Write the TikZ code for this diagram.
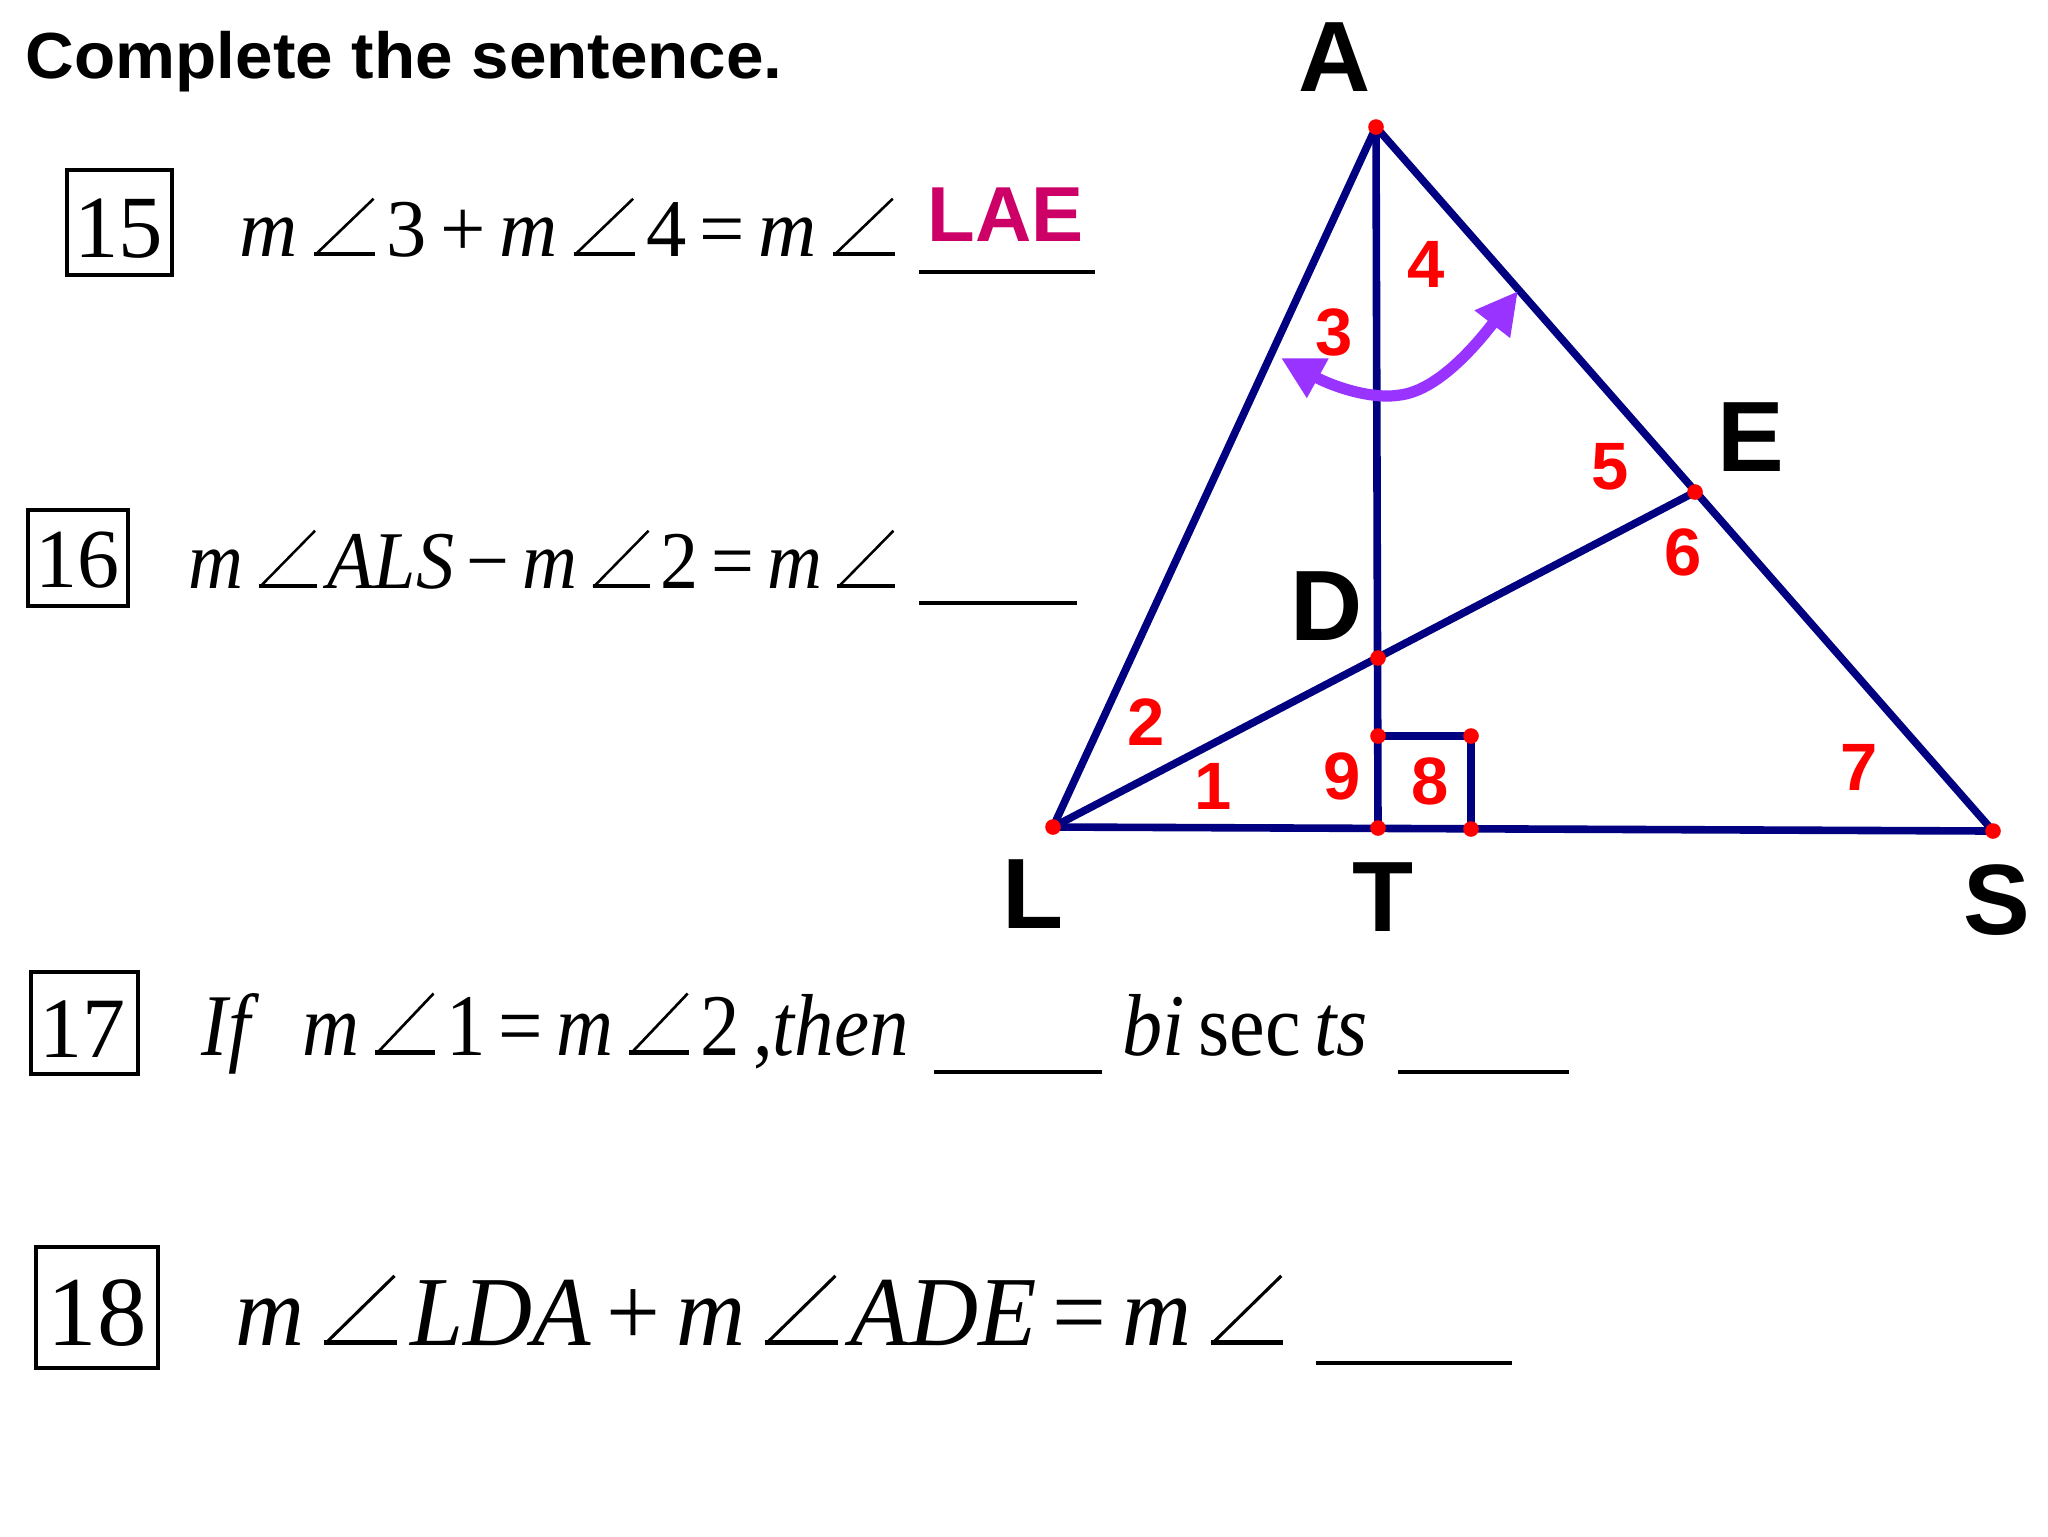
\documentclass[tikz,border=0pt]{standalone}
\usepackage{fontspec}
\usepackage{graphicx}
\usetikzlibrary{arrows.meta}
\newfontfamily\lsans{Liberation Sans}
\newfontfamily\tnr{Liberation Serif}
\definecolor{navyline}{RGB}{0,0,128}
\definecolor{ptred}{RGB}{255,0,0}
\definecolor{arrowpurple}{RGB}{153,51,255}
\definecolor{answercol}{RGB}{204,0,102}
% angle sign built from two rules: thin slant, heavier base
\newcommand\ang{\hspace{0.2em}\makebox[0.8em][l]{\rule{0.76em}{0.055em}\hspace{-0.76em}\rotatebox[origin=bl]{43.4}{\rule{1.0em}{0.032em}}}\hspace{0.1em}}
\newcommand\im[1]{\textit{#1}}
\newcommand\fitw[2]{\resizebox{#1}{\height}{#2}}
\tikzset{
  seg/.style={draw=navyline, line width=1.9pt, line cap=round, line join=round},
  dotm/.style={circle, fill=ptred, inner sep=0pt, minimum size=3.9pt},
  biglbl/.style={font=\lsans\bfseries\fontsize{25}{25}\selectfont, inner sep=0pt},
  numlbl/.style={font=\lsans\bfseries\fontsize{16.75}{17}\selectfont, text=ptred, inner sep=0pt},
  qbox/.style={draw, line width=1.05pt, inner sep=0pt},
  qnum/.style={anchor=base, inner sep=0pt},
  eqn/.style={anchor=base west, inner sep=0pt},
  blank/.style={draw, line width=1pt},
  bothway/.style={draw=arrowpurple, line width=2.8pt, {Triangle[length=10.5pt,width=10.5pt]}-{Triangle[length=10.5pt,width=10.5pt]}},
}
\begin{document}
\begin{tikzpicture}[x=0.25pt, y=-0.25pt]
\useasboundingbox (0,0) rectangle (2048,1536);

% heading
\node[eqn, font=\lsans\bfseries\fontsize{16.3}{18}\selectfont] (head) at (25,78)
  {\fitw{189.25pt}{Complete the sentence.}};

% question 15
\node[qbox, minimum width=26.25pt, minimum height=26.25pt] (b15) at (119.5,222.5) {};
\node[qnum, font=\tnr\fontsize{22.2}{24}\selectfont] (n15) at (118.5,257) {15};
\node[eqn, font=\tnr\fontsize{20.5}{24}\selectfont] (e15) at (239,256)
  {\fitw{166.5pt}{\im{m}\ang3\,+\,\im{m}\ang4\,=\,\im{m}\ang}};
\coordinate (u15a) at (919,272);
\coordinate (u15b) at (1095,272);
\draw[blank] (u15a) -- (u15b);
\node[font=\lsans\bfseries\fontsize{19.5}{20}\selectfont, text=answercol, inner sep=0pt] (lae) at (1005.5,215) {LAE};

% question 16
\node[qbox, minimum width=25pt, minimum height=24pt] (b16) at (78,558) {};
\node[qnum, font=\tnr\fontsize{21}{24}\selectfont] (n16) at (77.5,587) {16};
\node[eqn, font=\tnr\fontsize{20.5}{24}\selectfont] (e16) at (188,588)
  {\fitw{179.25pt}{\im{m}\ang\im{ALS}\,−\,\im{m}\ang2\,=\,\im{m}\ang}};
\coordinate (u16a) at (919,603);
\coordinate (u16b) at (1077,603);
\draw[blank] (u16a) -- (u16b);

% question 17
\node[qbox, minimum width=26.75pt, minimum height=25.5pt] (b17) at (84.5,1023) {};
\node[qnum, font=\tnr\fontsize{21.5}{24}\selectfont] (n17) at (82,1057) {17};
\node[eqn, font=\tnr\fontsize{22}{24}\selectfont] (e17) at (201,1055)
  {\fitw{176.75pt}{\im{If}\hspace{0.55em}\im{m}\ang1\,=\,\im{m}\ang2\,,\im{then}}};
\coordinate (u17a) at (934,1072);
\coordinate (u17b) at (1102,1072);
\draw[blank] (u17a) -- (u17b);
\node[eqn, font=\tnr\fontsize{22}{24}\selectfont] (bis) at (1122,1055)
  {\fitw{61.25pt}{\im{bi}\,sec\,\im{ts}}};
\coordinate (u17c) at (1398,1072);
\coordinate (u17d) at (1569,1072);
\draw[blank] (u17c) -- (u17d);

% question 18
\node[qbox, minimum width=30.5pt, minimum height=30.25pt] (b18) at (97,1307.5) {};
\node[qnum, font=\tnr\fontsize{24.75}{26}\selectfont] (n18) at (97,1345) {18};
\node[eqn, font=\tnr\fontsize{24.75}{26}\selectfont] (e18) at (235,1345)
  {\fitw{265.25pt}{\im{m}\ang\im{LDA}\,+\,\im{m}\ang\im{ADE}\,=\,\im{m}\ang}};
\coordinate (u18a) at (1316,1363);
\coordinate (u18b) at (1512,1363);
\draw[blank] (u18a) -- (u18b);

% triangle points
\coordinate (A) at (1376,127);
\coordinate (E) at (1695,492);
\coordinate (S) at (1993,831);
\coordinate (L) at (1053,827);
\coordinate (T) at (1378,828);
\coordinate (D) at (1378,658);
\coordinate (Q1) at (1378,736);
\coordinate (Q2) at (1471,736);
\coordinate (Q3) at (1471,829);

\draw[seg] (L) -- (A);
\draw[seg] (A) -- (S);
\draw[seg] (L) -- (S);
\draw[seg] (A) -- (T);
\draw[seg] (L) -- (E);
\draw[seg] (Q1) -- (Q2) -- (Q3);

% purple double arrow
\coordinate (arL) at (1281,358);
\coordinate (arM) at (1400,395);
\coordinate (arR) at (1518,291);
\draw[bothway] (arL) .. controls (1330,385) and (1370,400) .. (arM)
  .. controls (1440,390) and (1480,340) .. (arR);

% dots
\foreach \p in {A,E,S,L,T,D,Q1,Q2,Q3} \node[dotm] (dot\p) at (\p) {};

% vertex labels
\node[biglbl] (lA) at (1334.5,57.5) {A};
\node[biglbl] (lE) at (1751,437) {E};
\node[biglbl] (lD) at (1327,606) {D};
\node[biglbl] (lL) at (1033,894) {L};
\node[biglbl] (lT) at (1383,897) {T};
\node[biglbl] (lS) at (1997,900) {S};

% angle numbers
\node[numlbl] (a1) at (1213,786) {1};
\node[numlbl] (a2) at (1146,722) {2};
\node[numlbl] (a3) at (1334,332) {3};
\node[numlbl] (a4) at (1426,264) {4};
\node[numlbl] (a5) at (1610,467) {5};
\node[numlbl] (a6) at (1683,552) {6};
\node[numlbl] (a7) at (1859,767) {7};
\node[numlbl] (a8) at (1430,781) {8};
\node[numlbl] (a9) at (1342,776) {9};
\end{tikzpicture}
\end{document}
